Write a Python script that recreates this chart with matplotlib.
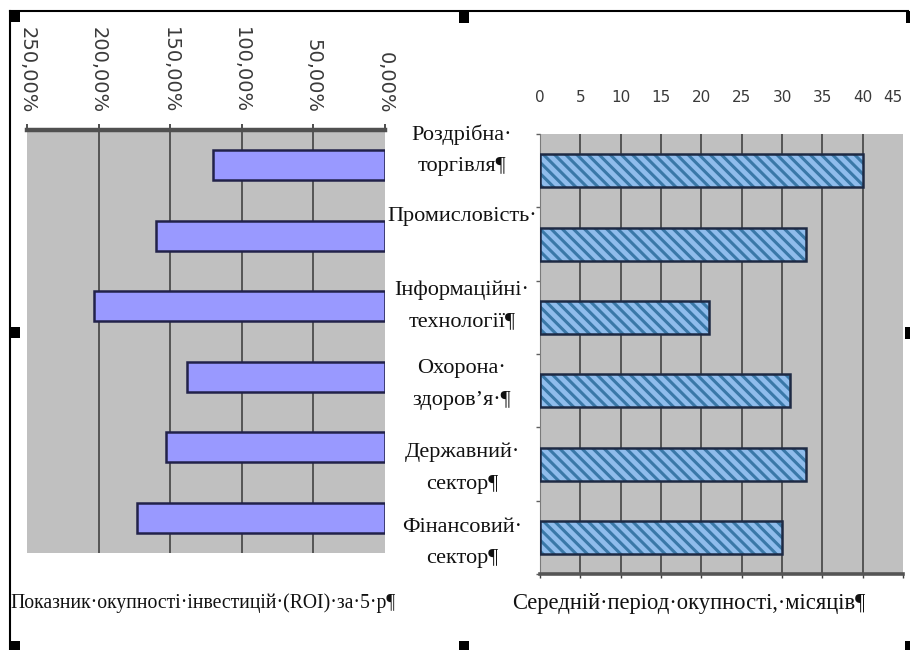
import matplotlib
matplotlib.use("Agg")
import matplotlib.pyplot as plt
import numpy as np
from matplotlib.transforms import Affine2D
from matplotlib.lines import Line2D
from matplotlib.patches import Rectangle
from matplotlib.ticker import FuncFormatter

# ---- data ----
categories = [
    "Роздрібна·\nторгівля¶",
    "Промисловість·",
    "Інформаційні·\nтехнології¶",
    "Охорона·\nздоров’я·¶",
    "Державний·\nсектор¶",
    "Фінансовий·\nсектор¶",
]
roi_pct = [120, 160, 203, 138, 153, 173]          # ROI over 5 years, %
payback_months = [40, 33, 21, 31, 33, 30]          # average payback period, months
roi_ticks = [0, 50, 100, 150, 200, 250]
month_ticks = [0, 5, 10, 15, 20, 25, 30, 35, 40, 45]
roi_title = "Показник·окупності·інвестицій·(ROI)·за·5·р¶"
months_title = "Середній·період·окупності,·місяців¶"

# ---- layout (pixels of a 910x650 canvas) ----
W, H = 910, 650
label_x = 462
label_top_y = [135, 217, 290, 368, 452, 527]
line_step = 32

GRAY = "#C0C0C0"
GRID = "#383838"
SERIF = ["Liberation Serif", "DejaVu Serif"]

fig = plt.figure(figsize=(W / 100, H / 100), dpi=100)
fig.patch.set_facecolor("white")
px = Affine2D().scale(1 / W, -1 / H).translate(0, 1) + fig.transFigure


def axes_px(x0, y0, x1, y1):
    return fig.add_axes([x0 / W, 1 - y1 / H, (x1 - x0) / W, (y1 - y0) / H])


y = np.arange(len(categories))

# ---- left panel: ROI ----
ax1 = axes_px(27, 130, 385, 553)
ax1.set_facecolor(GRAY)
ax1.set_xlim(roi_ticks[-1], roi_ticks[0])
ax1.set_ylim(len(categories) - 0.5, -0.5)
ax1.vlines(roi_ticks[1:-1], -0.5, len(categories) - 0.5, color=GRID, lw=1.1, zorder=1)
ax1.barh(y, roi_pct, height=0.42, color="#9999FF", edgecolor="#22224A",
         linewidth=1.8, zorder=3)
for s in ("left", "right", "bottom"):
    ax1.spines[s].set_visible(False)
ax1.spines["top"].set_color("#505050")
ax1.spines["top"].set_linewidth(3.2)
ax1.xaxis.tick_top()
ax1.set_xticks(roi_ticks)
ax1.xaxis.set_major_formatter(FuncFormatter(lambda v, p: f"{v:.2f}".replace(".", ",") + "%"))
ax1.tick_params(axis="x", direction="out", length=4, width=1.3, color="#404040",
                pad=8, labelsize=14, labelcolor="#3a3a3a", labelrotation=-90)
for t in ax1.get_xticklabels():
    t.set_va("bottom")
    t.set_ha("center")
ax1.set_yticks([])

# ---- right panel: payback period ----
ax2 = axes_px(540, 134, 903, 574)
ax2.set_facecolor(GRAY)
ax2.set_xlim(month_ticks[0], month_ticks[-1])
ax2.set_ylim(len(categories) - 0.5, -0.5)
ax2.vlines(month_ticks[1:-1], -0.5, len(categories) - 0.5, color=GRID, lw=1.1, zorder=1)
plt.rcParams["hatch.linewidth"] = 2.2
ax2.barh(y, payback_months, height=0.45, color="#8FBCEC", edgecolor="#3A78A8",
         hatch="\\\\\\", linewidth=0, zorder=3)
ax2.barh(y, payback_months, height=0.45, fill=False, edgecolor="#1E2A44",
         linewidth=1.8, zorder=4)
ax2.spines["top"].set_visible(False)
ax2.spines["right"].set_visible(False)
ax2.spines["bottom"].set_color("#555555")
ax2.spines["bottom"].set_linewidth(2.6)
ax2.spines["left"].set_color("#7a7a7a")
ax2.spines["left"].set_linewidth(0.8)
ax2.set_xticks(month_ticks)
ax2.tick_params(axis="x", which="both", bottom=True, top=False, labelbottom=False,
                labeltop=True, length=3, width=1, color="#404040",
                pad=18, labelsize=11, labelcolor="#3a3a3a")
# the last label sits at the canvas edge, so it is right-aligned to stay inside
ax2.get_xticklabels()[-1].set_ha("right")
ax2.set_yticks(np.arange(len(categories) + 1) - 0.5)
ax2.tick_params(axis="y", direction="out", length=3, width=1, color="#606060",
                labelleft=False)

# ---- category captions between the panels ----
for name, ty in zip(categories, label_top_y):
    for k, line in enumerate(name.split("\n")):
        fig.text(label_x, ty + k * line_step, line, transform=px, ha="center",
                 va="center", family=SERIF, fontsize=16, color="#111111")

# ---- panel captions ----
fig.text(10, 603, roi_title, transform=px, ha="left", va="center",
         family=SERIF, fontsize=14.2, color="#111111")
fig.text(512, 603, months_title, transform=px, ha="left", va="center",
         family=SERIF, fontsize=16.3, color="#111111")

# ---- object frame and selection handles ----
fig.add_artist(Line2D([10, 908], [11, 11], transform=px, color="black", lw=1.5))
fig.add_artist(Line2D([10, 10], [11, 650], transform=px, color="black", lw=1.5))
for hx, hy, hw, hh in [(10, 11, 10, 11), (459, 11, 10, 12), (906, 11, 4, 12),
                       (10, 327, 10, 11), (905, 327, 5, 12),
                       (10, 641, 10, 9), (459, 641, 10, 9), (905, 641, 5, 9)]:
    fig.add_artist(Rectangle((hx, hy), hw, hh, transform=px, color="black", lw=0))

fig.savefig("out.png", dpi=100)
